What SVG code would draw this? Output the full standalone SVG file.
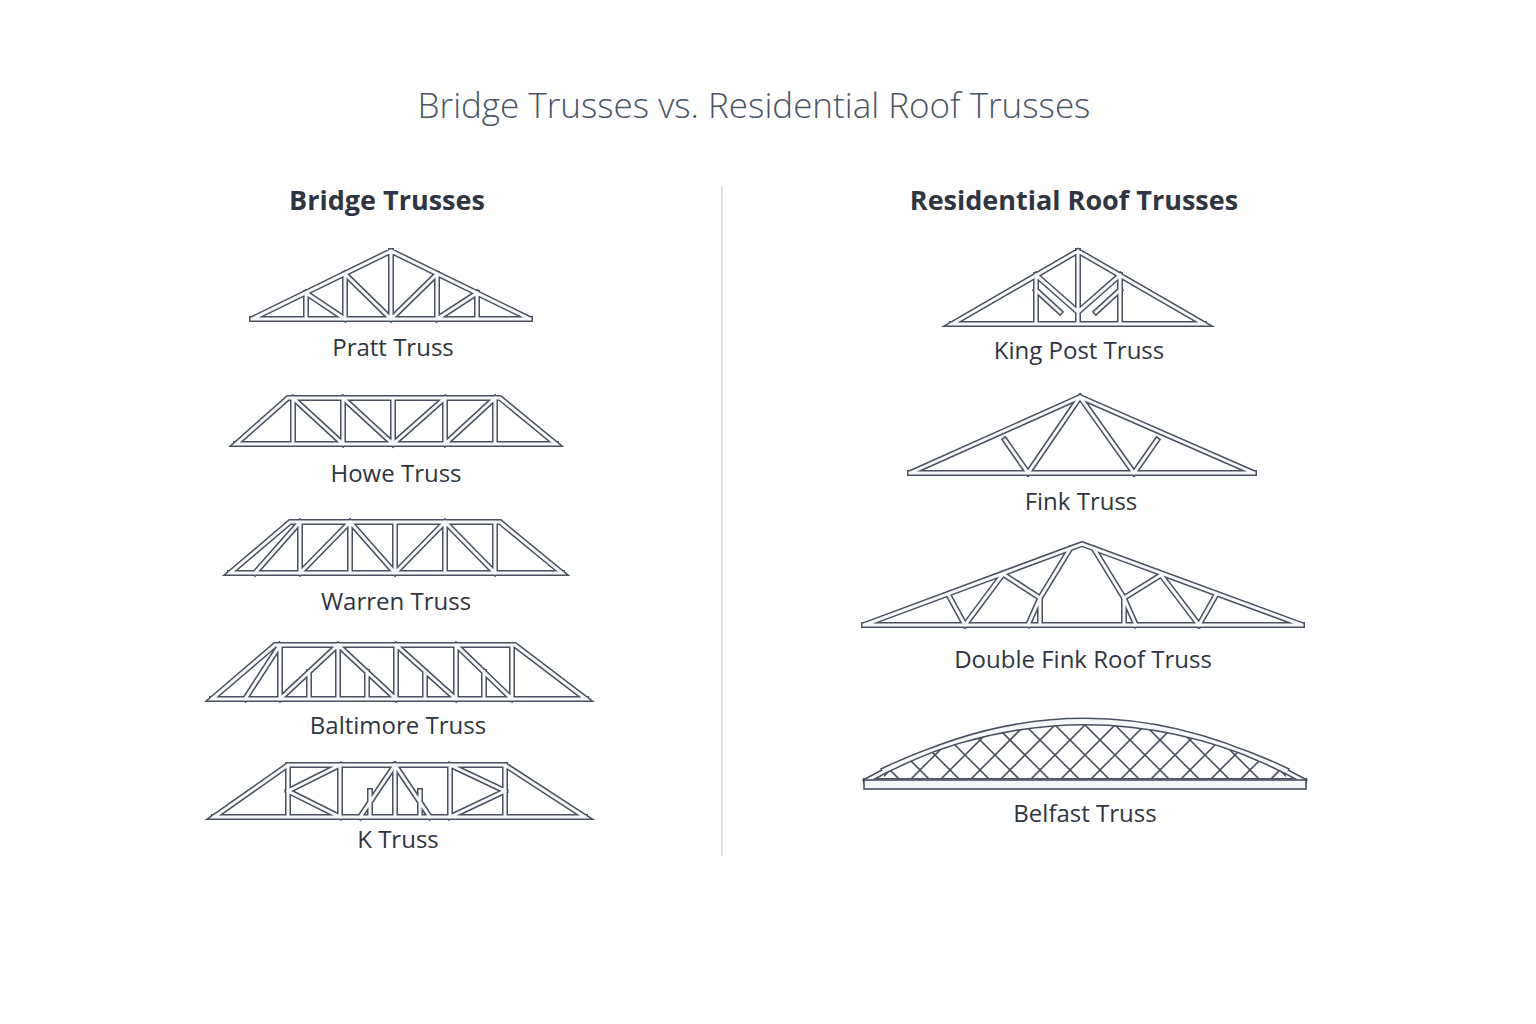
<svg xmlns="http://www.w3.org/2000/svg" xmlns:xlink="http://www.w3.org/1999/xlink" width="1536" height="1024" viewBox="0 0 1536 1024">
<style>
.o{fill:none;stroke:#4a5161;stroke-width:6;stroke-linecap:square;stroke-linejoin:miter}
.i{fill:none;stroke:#f7f8fa;stroke-width:3;stroke-linecap:square;stroke-linejoin:miter}
.t{font-family:"Open Sans","Noto Sans",sans-serif;fill:#2f3542;text-anchor:middle;font-size:24px}
.h{font-family:"Open Sans","Noto Sans",sans-serif;fill:#2f3542;text-anchor:middle;font-size:27px;font-weight:700}
.ti{font-family:"Open Sans","Noto Sans",sans-serif;fill:#4a5568;text-anchor:middle;font-size:35px;font-weight:300}
</style>
<defs>
<path id="p1" d="M252 319L391 251L530 319ZM252 319H530M306 293V319M345 274V319M391 251V319M437 274V319M477 293V319M345 274L391 319M437 274L391 319M306 293L345 319M477 293L437 319"/>
<path id="p2" d="M236 444L288 398H500L556 444ZM236 444H556M293 398V444M343 398V444M393 398V444M445 398V444M495 398V444M293 398L343 444M343 398L393 444M445 398L393 444M495 398L445 444"/>
<path id="p3" d="M230 573L290 522H500L562 573ZM230 573H562M300 522V573M350 522V573M395 522V573M445 522V573M495 522V573M300 573L350 522M350 522L395 573M395 573L445 522M445 522L495 573M255 573L300 522"/>
<path id="p4" d="M212 699L275 645H515L586 699ZM212 699H586M280 645V699M338 645V699M396 645V699M456 645V699M512 645V699M280 699L338 645M338 645L396 699M396 645L456 699M456 645L512 699M309 672V699M367 672V699M425 672V699M484 672V699M245 699L280 645"/>
<path id="p5" d="M214 817L288 765H505L585 817ZM214 817H585M288 765V817M340 765V817M395 765V817M450 765V817M505 765V817M288 791L340 765M288 791L340 817M395 765L360 817M395 765L430 817M505 791L450 765M505 791L450 817M370 791V817M420 791V817"/>
<path id="r1" d="M952 324L1078 251L1204 324ZM952 324H1204M1078 251V324M1036 275V324M1120 275V324M1036 275L1078 312M1120 275L1078 312M1036 290L1060 312M1120 290L1096 312"/>
<path id="r2" d="M910 473L1080 397L1254 473ZM910 473H1254M1080 397L1028 473M1080 397L1134 473M1028 473L1005 440M1134 473L1157 440"/>
<path id="r3" d="M864 625L1082 544L1302 625ZM864 625H1302M965 625L948 594M965 625L1003 574M1003 574L1040 598M1040 598L1070 549M1040 598L1028 625M1040 598V625M1199 625L1216 595M1199 625L1161 575M1161 575L1124 598M1124 598L1094 549M1124 598L1136 625M1124 598V625"/>
<path id="r4" d="M866 781Q1085 660 1304 781M884 770Q1085 675 1286 770M866 781H1304"/>
<clipPath id="bc"><path d="M884 770Q1085 675 1286 770L1286 781H884Z"/></clipPath>
</defs>
<rect width="1536" height="1024" fill="#fff"/>
<text class="ti" x="754" y="118">Bridge Trusses vs. Residential Roof Trusses</text>
<text class="h" x="387" y="210">Bridge Trusses</text>
<text class="h" x="1074" y="210">Residential Roof Trusses</text>
<line x1="722" y1="186" x2="722" y2="856" stroke="#d3d8df" stroke-width="1.5"/>
<g id="pratt"><use href="#p1" class="o"/><use href="#p1" class="i"/><text class="t" x="393" y="356">Pratt Truss</text></g>
<g id="howe"><use href="#p2" class="o"/><use href="#p2" class="i"/><text class="t" x="396" y="482">Howe Truss</text></g>
<g id="warren"><use href="#p3" class="o"/><use href="#p3" class="i"/><text class="t" x="396" y="610">Warren Truss</text></g>
<g id="baltimore"><use href="#p4" class="o"/><use href="#p4" class="i"/><text class="t" x="398" y="734">Baltimore Truss</text></g>
<g id="ktruss"><use href="#p5" class="o"/><use href="#p5" class="i"/><text class="t" x="398" y="848">K Truss</text></g>
<g id="kingpost"><use href="#r1" class="o"/><use href="#r1" class="i"/><text class="t" x="1079" y="359">King Post Truss</text></g>
<g id="fink"><use href="#r2" class="o"/><use href="#r2" class="i"/><text class="t" x="1081" y="510">Fink Truss</text></g>
<g id="doublefink"><use href="#r3" class="o"/><use href="#r3" class="i"/><text class="t" x="1083" y="668">Double Fink Roof Truss</text></g>
<g id="belfast">
<g clip-path="url(#bc)" stroke="#4a5161" stroke-width="1.6" fill="none">
<path d="M880 700l100 100M910 700l100 100M940 700l100 100M970 700l100 100M1000 700l100 100M1030 700l100 100M1060 700l100 100M1090 700l100 100M1120 700l100 100M1150 700l100 100M1180 700l100 100M1210 700l100 100M850 700l100 100M820 700l100 100"/>
<path d="M1290 700l-100 100M1260 700l-100 100M1230 700l-100 100M1200 700l-100 100M1170 700l-100 100M1140 700l-100 100M1110 700l-100 100M1080 700l-100 100M1050 700l-100 100M1020 700l-100 100M990 700l-100 100M960 700l-100 100M1320 700l-100 100M1350 700l-100 100"/>
</g>
<use href="#r4" class="o"/><use href="#r4" class="i"/>
<rect x="864" y="780" width="442" height="9" fill="#f4f5f7" stroke="#4a5161" stroke-width="1.6"/>
<text class="t" x="1085" y="822">Belfast Truss</text></g>
</svg>
